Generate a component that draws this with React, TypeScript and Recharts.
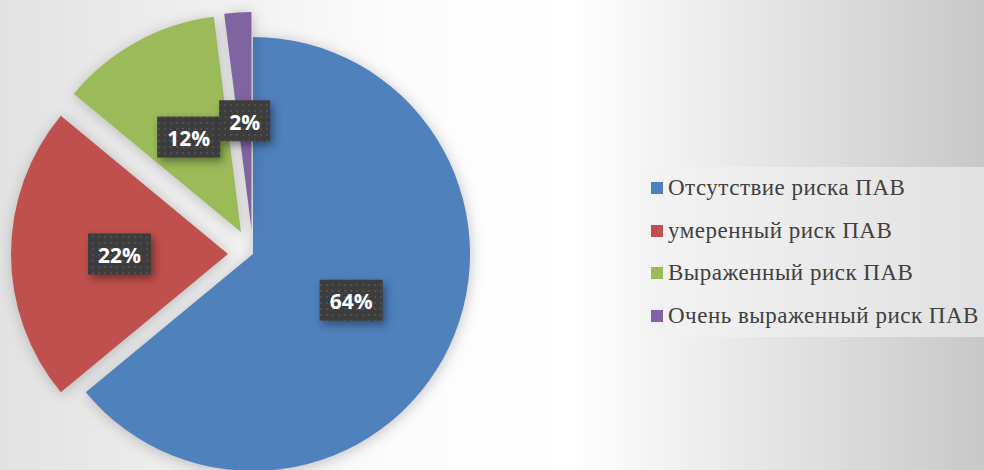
import React from 'react';
import { PieChart, Pie, Cell, Sector, Legend } from 'recharts';

const categories = [
  'Отсутствие риска ПАВ',
  'умеренный риск ПАВ',
  'Выраженный риск ПАВ',
  'Очень выраженный риск ПАВ',
];
const shares = [64, 22, 12, 2];
const percentLabels = ['64%', '22%', '12%', '2%'];

const colors = ['#4F81BD', '#C0504D', '#9BBB59', '#8064A2'];
const explode = [0, 25, 25, 25];

const data = categories.map((name, i) => ({ name, value: shares[i], label: percentLabels[i] }));

const RAD = Math.PI / 180;

const idxOf = (props: any): number => {
  const n = props?.name ?? props?.payload?.name ?? props?.value;
  const i = categories.indexOf(n);
  return i < 0 ? 0 : i;
};

const renderShape = (props: any) => {
  const i = idxOf(props);
  const e = explode[i] ?? 0;
  const dx = e * Math.cos(-props.midAngle * RAD);
  const dy = e * Math.sin(-props.midAngle * RAD);
  return (
    <Sector
      cx={props.cx + dx}
      cy={props.cy + dy}
      innerRadius={props.innerRadius}
      outerRadius={props.outerRadius}
      startAngle={props.startAngle}
      endAngle={props.endAngle}
      fill={props.fill}
      stroke="none"
      style={{ filter: 'drop-shadow(1px 2px 7px rgba(0,0,0,0.22))' }}
    />
  );
};

const renderLabel = (props: any) => {
  const i = idxOf(props);
  const e = explode[i] ?? 0;
  const dist = e + props.outerRadius * 0.5;
  const x = props.cx + dist * Math.cos(-props.midAngle * RAD);
  const y = props.cy + dist * Math.sin(-props.midAngle * RAD);
  const text = percentLabels[i];
  const w = 12 * text.length + 27;
  const h = 41;
  const pid = `dots-${i}`;
  return (
    <g key={`lbl-${i}`}>
      <defs>
        <pattern id={pid} x={0} y={0} width={6} height={6} patternUnits="userSpaceOnUse">
          <rect x={0} y={0} width={6} height={6} fill="#3d3d3d" />
          <circle cx={3} cy={3} r={0.9} fill="#575757" />
        </pattern>
      </defs>
      <rect
        x={x - w / 2}
        y={y - h / 2}
        width={w}
        height={h}
        fill={`url(#${pid})`}
        style={{ filter: 'drop-shadow(3px 4px 4px rgba(0,0,0,0.4))' }}
      />
      <text
        x={x}
        y={y + 1}
        textAnchor="middle"
        dominantBaseline="central"
        fill="#ffffff"
        fontFamily="'Open Sans', sans-serif"
        fontWeight={700}
        fontSize={21}
      >
        {text}
      </text>
    </g>
  );
};

const renderLegend = () => {
  return (
    <div
      style={{
        width: 344,
        height: 170,
        background: 'rgba(242,242,242,0.6)',
        boxSizing: 'border-box',
        position: 'relative',
      }}
    >
      {categories.map((name, i) => (
        <div
          key={`leg-${i}`}
          style={{
            position: 'absolute',
            left: 11,
            top: 21 + i * 42.5 - 14,
            height: 28,
            display: 'flex',
            alignItems: 'center',
            whiteSpace: 'nowrap',
          }}
        >
          <span
            style={{
              display: 'inline-block',
              width: 12,
              height: 12,
              background: colors[i],
              marginRight: 5,
            }}
          />
          <span
            style={{
              fontFamily: "'Liberation Serif', 'DejaVu Serif', 'Noto Serif', serif",
              fontSize: 23,
              letterSpacing: 0.5,
              color: '#404040',
              lineHeight: '28px',
            }}
          >
            {name}
          </span>
        </div>
      ))}
    </div>
  );
};

export default function App() {
  return (
    <div
      style={{
        position: 'absolute',
        left: 0,
        top: 0,
        width: 984,
        height: 470,
        overflow: 'hidden',
        background:
          'linear-gradient(90deg, #e2e2e2 0%, #f2f2f2 25%, #fcfcfc 40%, #ffffff 58%, #eeeeee 71%, #dcdcdc 85%, #c8c8c8 100%)',
      }}
    >
      <PieChart width={984} height={470} margin={{ top: 0, right: 0, bottom: 0, left: 0 }}>
        <Pie
          data={data}
          dataKey="value"
          nameKey="name"
          cx={253}
          cy={254}
          innerRadius={0}
          outerRadius={217}
          startAngle={90}
          endAngle={-270}
          stroke="none"
          isAnimationActive={false}
          labelLine={false}
          label={renderLabel}
          shape={renderShape}
        >
          {data.map((d, i) => (
            <Cell key={`cell-${i}`} fill={colors[i]} />
          ))}
        </Pie>
        <Legend
          layout="vertical"
          align="right"
          verticalAlign="top"
          content={renderLegend}
          wrapperStyle={{ position: 'absolute', left: 640, top: 167, width: 344, height: 170 }}
        />
      </PieChart>
    </div>
  );
}
